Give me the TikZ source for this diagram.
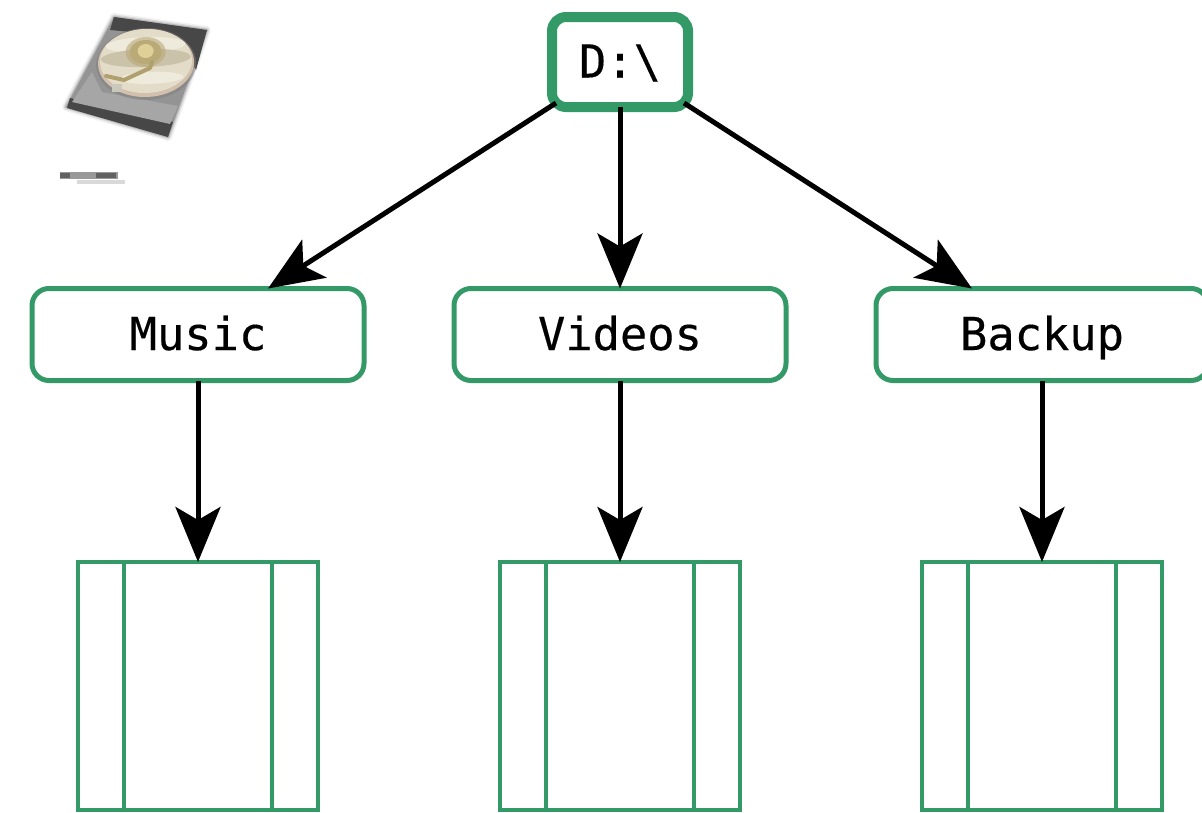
\documentclass[tikz,border=0pt]{standalone}
\usepackage{fontspec}
\setmonofont[FakeBold=0.35]{DejaVu Sans Mono}
\usetikzlibrary{arrows.meta,calc}
\definecolor{boxgreen}{RGB}{51,153,102}
\definecolor{platter}{RGB}{226,220,200}
\definecolor{band}{RGB}{203,194,170}
\definecolor{pale}{RGB}{238,234,220}
\definecolor{hub}{RGB}{186,170,120}
\definecolor{hubtop}{RGB}{222,208,150}
\definecolor{arm}{RGB}{176,160,110}
\tikzset{
  x=1pt,y=-1pt,
  label box/.style={draw=boxgreen,fill=white,rounded corners=14pt,inner sep=0pt,outer sep=0pt,
    font=\ttfamily\fontsize{45.4}{50}\selectfont,text height=34pt,text depth=3pt,align=center},
  root box/.style={label box,line width=10pt,minimum width=136pt,minimum height=90pt},
  folder box/.style={label box,line width=5pt,minimum width=332pt,minimum height=92pt,rounded corners=17pt},
  process box/.style={draw=boxgreen,line width=4.5pt,inner sep=0pt,outer sep=0pt,minimum width=240pt,minimum height=248pt},
  process bar/.style={draw=boxgreen,line width=4.5pt},
  link/.style={draw=black,line width=5pt,-{Stealth[length=55pt,width=45pt,inset=13pt]}}
}
\begin{document}
\begin{tikzpicture}
\useasboundingbox (0,0) rectangle (1202,812);
\clip (0,0) rectangle (1202,812);
% hard disk picture (blurred thumbnail)
\foreach \w/\o in {8/.10,5/.18,2.5/.30}{
  \draw[line join=round,line width=\w pt,black!55,opacity=\o] (114,17)--(207,30)--(168,137)--(66,107)--cycle;}
\fill[black!42] (114,17)--(207,30)--(168,137)--(66,107)--cycle;
\fill[black!72] (114,17)--(207,30)--(196,70)--(176,36)--(110,30)--cycle;
\fill[black!72] (67,108)--(168,137)--(173,122)--(70,98)--cycle;
\fill[black!35] (92,72)--(102,92)--(178,106)--(170,124)--(72,102)--cycle;
\begin{scope}[shift={(146,61)},rotate=2]
  \fill[black!50,opacity=.5] (0,3) ellipse (50pt and 36pt);
  \fill[black!25!brown!40!white] (0,2) ellipse (48pt and 34pt);
  \fill[platter] (0,0) ellipse (46pt and 32pt);
  \fill[pale] (0,-16) ellipse (40pt and 8pt);
  \fill[band] (0,-3) ellipse (45pt and 9pt);
  \fill[pale] (5,17) ellipse (32pt and 6pt);
  \fill[hub,opacity=.6] (0,-9) ellipse (20pt and 15pt);
  \fill[hub] (0,-9) ellipse (16pt and 12pt);
  \fill[hubtop] (0,-10) ellipse (8pt and 7pt);
\end{scope}
\draw[arm,line width=4pt,line cap=round,line join=round] (106,76)--(124,80)--(150,68)--(152,62);
\fill[black!15!pale] (112,84) rectangle (122,92);
% illegible caption of the picture
\fill[black!40] (60,172) rectangle (118,179);
\fill[black!62] (60,173) rectangle (70,178);
\fill[black!62] (96,173) rectangle (116,178);
\fill[black!15] (77,180) rectangle (125,184);
% folders
\node[root box] (root) at (620,62) {D:\textbackslash};
\node[folder box] (music) at (198,334.5) {Music};
\node[folder box] (videos) at (620,334.5) {Videos};
\node[folder box] (backup) at (1042,334.5) {Backup};
% contents
\foreach \n/\x in {mlist/198,vlist/620,blist/1042}{
  \node[process box] (\n) at (\x,686) {};
  \draw[process bar] ($(\n.north west)+(46,0)$) -- ($(\n.south west)+(46,0)$);
  \draw[process bar] ($(\n.north east)+(-46,0)$) -- ($(\n.south east)+(-46,0)$);
}
% connectors
\draw[link] ($(root.south west)+(4,-4)$) -- ($(music.north)+(70,0)$);
\draw[link] (root.south) -- (videos.north);
\draw[link] ($(root.south east)+(-4,-4)$) -- ($(backup.north)+(-70,0)$);
\draw[link] (music.south) -- (mlist.north);
\draw[link] (videos.south) -- (vlist.north);
\draw[link] (backup.south) -- (blist.north);
\end{tikzpicture}
\end{document}
